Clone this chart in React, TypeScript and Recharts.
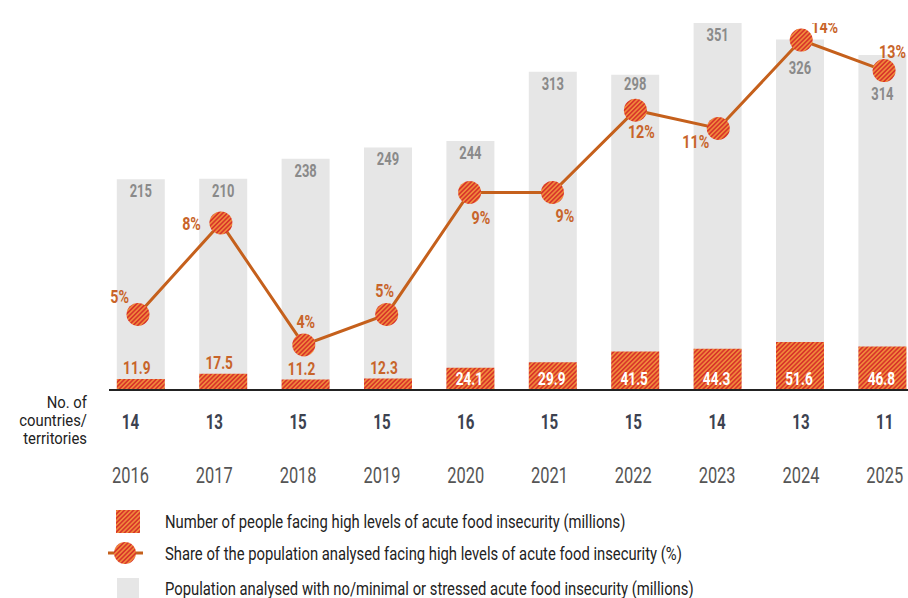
import { Bar, ComposedChart, LabelList, Line, ReferenceLine, XAxis, YAxis } from 'recharts'

const years = ['2016', '2017', '2018', '2019', '2020', '2021', '2022', '2023', '2024', '2025']
// people in high levels of acute food insecurity (millions)
const highLevels = [11.9, 17.5, 11.2, 12.3, 24.1, 29.9, 41.5, 44.3, 51.6, 46.8]
// population analysed with no/minimal or stressed (millions)
const restAnalysed = [215, 210, 238, 249, 244, 313, 298, 351, 326, 314]
// share of analysed population in high levels (%)
const sharePct = [5, 8, 4, 5, 9, 9, 11.7, 11.1, 14, 13]
const countries = [14, 13, 15, 15, 16, 15, 15, 14, 13, 11]

const legendItems = [
  'Number of people facing high levels of acute food insecurity (millions)',
  'Share of the population analysed facing high levels of acute food insecurity (%)',
  'Population analysed with no/minimal or stressed acute food insecurity (millions)',
]

const FONT = 'Roboto, "Liberation Sans", sans-serif'
const GRAY_BAR = '#e6e6e6'
const GRAY_TEXT = '#8a8a8a'
const ORANGE_LINE = '#c5601c'
const ORANGE_TEXT = '#c8642a'
const HATCH_RED = '#d8352b'
const HATCH_ORANGE = '#f0883a'
const DARK = '#3c4250'
const YEAR_GRAY = '#555555'

const data = years.map((year, i) => ({
  year,
  high: highLevels[i],
  rest: restAnalysed[i],
  total: highLevels[i] + restAnalysed[i],
  share: sharePct[i],
}))
const maxTotal = Math.max(...data.map((d) => d.total))

// where each % label sits relative to its dot: dx, dy (baseline), anchor
const shareLabelPos: [number, number, 'start' | 'middle' | 'end'][] = [
  [-9, -11, 'end'],
  [-20, 7, 'end'],
  [2, -17, 'middle'],
  [-2, -17, 'middle'],
  [2, 32, 'start'],
  [3, 30, 'start'],
  [6, 28, 'middle'],
  [-9, 20, 'end'],
  [10, -7, 'start'],
  [-5, -13, 'start'],
]
// baseline offset of the grey value label from the bar top
const totalLabelDy = [18, 18, 18, 18, 18, 18, 15, 18, 35, 45]

function SText({ x, y, size, weight = 400, fill, sx = 0.75, anchor = 'middle', children }: any) {
  return (
    <text
      transform={`translate(${x},${y}) scale(${sx},1)`}
      textAnchor={anchor}
      fontFamily={FONT}
      fontSize={size}
      fontWeight={weight}
      fill={fill}
    >
      {children}
    </text>
  )
}

function HatchPattern({ id }: { id: string }) {
  return (
    <pattern id={id} patternUnits="userSpaceOnUse" width="3.2" height="3.2" patternTransform="rotate(45)">
      <rect width="3.2" height="3.2" fill={HATCH_ORANGE} />
      <rect width="1.6" height="3.2" fill={HATCH_RED} />
    </pattern>
  )
}

// the tick y recharts hands over sits below the axis, so offsets are relative to it
function YearTick(props: any) {
  const { x, y, payload } = props
  const i = payload?.index ?? props.index
  return (
    <g>
      <SText x={x} y={y - 20.6} size={21} weight={700} fill={DARK} sx={0.72}>
        {countries[i]}
      </SText>
      <SText x={x} y={y + 32.7} size={22.5} fill={YEAR_GRAY} sx={0.73}>
        {payload.value}
      </SText>
    </g>
  )
}

export default function App() {
  return (
    <div style={{ position: 'absolute', left: 0, top: 0, width: 908, height: 598, overflow: 'hidden', background: '#fff' }}>
      <div style={{ position: 'absolute', left: 0, top: 23 }}>
        <ComposedChart width={930} height={467} data={data} margin={{ top: 0, right: 6.2, bottom: 0, left: 109 }}>
          <defs>
            <HatchPattern id="hatch" />
          </defs>
          <XAxis xAxisId="bars" dataKey="year" hide padding={{ left: -9.2, right: 0 }} />
          <XAxis xAxisId="hi" dataKey="year" hide padding={{ left: -9.2, right: 0 }} />
          <XAxis xAxisId="line" dataKey="year" hide padding={{ left: -12.45, right: -1.75 }} />
          <XAxis
            xAxisId="labels"
            dataKey="year"
            height={100}
            axisLine={false}
            tickLine={false}
            tickSize={0}
            tickMargin={0}
            interval={0}
            padding={{ left: -20.4, right: -2.8 }}
            tick={<YearTick />}
          />
          <YAxis yAxisId="count" hide domain={[0, maxTotal]} allowDataOverflow />
          <YAxis yAxisId="pct" orientation="right" hide domain={[2.52, 14.56]} allowDataOverflow />

          <Bar xAxisId="bars" yAxisId="count" dataKey="total" fill={GRAY_BAR} barSize={48} isAnimationActive={false}>
            <LabelList
              dataKey="rest"
              content={(p: any) => (
                <SText
                  x={Number(p.x) + Number(p.width) / 2}
                  y={Number(p.y) + totalLabelDy[p.index]}
                  size={18.5}
                  weight={700}
                  fill={GRAY_TEXT}
                  sx={0.7}
                >
                  {p.value}
                </SText>
              )}
            />
          </Bar>
          <Bar xAxisId="hi" yAxisId="count" dataKey="high" fill="url(#hatch)" barSize={48} isAnimationActive={false}>
            <LabelList
              dataKey="high"
              content={(p: any) => {
                const inside = Number(p.value) > 20
                const cx = Number(p.x) + Number(p.width) / 2
                return (
                  <SText
                    x={cx + (inside ? -1 : -4)}
                    y={inside ? Number(p.y) + Number(p.height) - 5.5 : Number(p.y) - 4.5}
                    size={18}
                    weight={700}
                    fill={inside ? '#ffffff' : ORANGE_TEXT}
                    sx={0.76}
                  >
                    {Number(p.value).toFixed(1)}
                  </SText>
                )
              }}
            />
          </Bar>
          <ReferenceLine xAxisId="bars" yAxisId="count" y={0} stroke="#222" strokeWidth={2} />

          <Line
            xAxisId="line"
            yAxisId="pct"
            dataKey="share"
            stroke={ORANGE_LINE}
            strokeWidth={3}
            isAnimationActive={false}
            activeDot={false}
            dot={(p: any) => <circle key={`dot-${p.index}`} cx={p.cx} cy={p.cy} r={11.5} fill="url(#hatch)" />}
          >
            <LabelList
              dataKey="share"
              content={(p: any) => {
                const [dx, dy, anchor] = shareLabelPos[p.index]
                return (
                  <SText x={Number(p.x) + dx} y={Number(p.y) + dy} size={18.3} weight={700} fill={ORANGE_TEXT} sx={0.78} anchor={anchor}>
                    {`${Math.round(Number(p.value))}%`}
                  </SText>
                )
              }}
            />
          </Line>
        </ComposedChart>
      </div>

      <svg width={908} height={598} style={{ position: 'absolute', left: 0, top: 0, pointerEvents: 'none' }}>
        <defs>
          <HatchPattern id="hatchLegend" />
        </defs>
        <SText x={87} y={408} size={16.5} fill="#222" sx={0.9} anchor="end">No. of</SText>
        <SText x={87} y={426} size={16.5} fill="#222" sx={0.9} anchor="end">countries/</SText>
        <SText x={87} y={444} size={16.5} fill="#222" sx={0.9} anchor="end">territories</SText>

        <rect x={116} y={510} width={24} height={23} fill="url(#hatchLegend)" />
        <line x1={108} x2={143} y1={553} y2={553} stroke={ORANGE_LINE} strokeWidth={3} />
        <circle cx={125} cy={553} r={11} fill="url(#hatchLegend)" />
        <rect x={117} y={578} width={22} height={20} fill={GRAY_BAR} />
        {legendItems.map((label, i) => (
          <SText key={label} x={165} y={[528, 560, 595][i]} size={18.5} fill="#222" sx={0.8} anchor="start">
            {label}
          </SText>
        ))}
      </svg>
    </div>
  )
}
